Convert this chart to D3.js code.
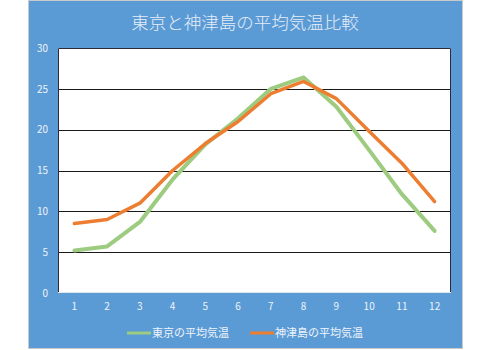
<!DOCTYPE html>
<html>
<head>
<meta charset="utf-8">
<script src="https://cdn.jsdelivr.net/npm/d3@7"></script>
<style>
  html, body { margin: 0; padding: 0; background: #ffffff; }
  svg { display: block; }
  text { font-family: "Noto Sans CJK JP", "Noto Sans", sans-serif; }
</style>
</head>
<body>
<svg id="chart" width="490" height="350"></svg>
<script>
// Monthly mean temperatures (°C)
const months = ["1","2","3","4","5","6","7","8","9","10","11","12"];
const tokyo = [5.2, 5.7, 8.7, 13.9, 18.2, 21.4, 25.0, 26.4, 22.8, 17.5, 12.1, 7.6];
const kozushima = [8.5, 9.0, 11.0, 15.0, 18.3, 21.0, 24.4, 25.9, 23.8, 19.8, 15.9, 11.2];
const seriesNames = ["東京の平均気温", "神津島の平均気温"];
const seriesColors = ["#9dcb80", "#ed7d31"];
const yTicks = [0, 5, 10, 15, 20, 25, 30];
const title = "東京と神津島の平均気温比較";

const svg = d3.select("#chart");

// chart background panel
svg.append("rect")
  .attr("x", 28.5).attr("y", 0.5)
  .attr("width", 434).attr("height", 348)
  .attr("fill", "#5b9bd5")
  .attr("stroke", "#c9c9c9").attr("stroke-width", 1);

const plot = { left: 58, top: 48, right: 451, bottom: 293 };

const x = d3.scaleBand().domain(months).range([plot.left, plot.right]);
const y = d3.scaleLinear().domain([0, 30]).range([plot.bottom, plot.top]);

// plot area
svg.append("rect")
  .attr("x", plot.left).attr("y", plot.top)
  .attr("width", plot.right - plot.left).attr("height", plot.bottom - plot.top)
  .attr("fill", "#ffffff");

// horizontal gridlines
svg.append("g")
  .selectAll("line")
  .data(yTicks.filter(d => d > 0 && d < 30))
  .join("line")
  .attr("x1", plot.left).attr("x2", plot.right)
  .attr("y1", d => Math.round(y(d)) + 0.5).attr("y2", d => Math.round(y(d)) + 0.5)
  .attr("stroke", "#1a1a1a").attr("stroke-width", 1);

// plot frame: dark on top, left and right
svg.append("path")
  .attr("d", `M${plot.left + 0.5},${plot.bottom}V${plot.top + 0.5}H${plot.right - 0.5}V${plot.bottom}`)
  .attr("fill", "none").attr("stroke", "#2b2b3a").attr("stroke-width", 1);
svg.append("line")
  .attr("x1", plot.left).attr("x2", plot.right)
  .attr("y1", plot.bottom - 0.5).attr("y2", plot.bottom - 0.5)
  .attr("stroke", "#dfe6ee").attr("stroke-width", 1);

// y axis labels
const yAxis = d3.axisLeft(y).tickValues(yTicks).tickSize(0).tickPadding(0);
svg.append("g")
  .attr("transform", `translate(${plot.left - 10},0)`)
  .call(yAxis)
  .call(g => g.select(".domain").remove())
  .selectAll("text")
  .attr("fill", "#eef3fa")
  .attr("font-size", 10)
  .attr("font-family", "'DejaVu Sans', sans-serif");

// x axis labels
const xAxis = d3.axisBottom(x).tickSize(0).tickPadding(0);
svg.append("g")
  .attr("transform", `translate(0,${plot.bottom + 10})`)
  .call(xAxis)
  .call(g => g.select(".domain").remove())
  .selectAll("text")
  .attr("fill", "#eef3fa")
  .attr("font-size", 10)
  .attr("font-family", "'DejaVu Sans', sans-serif");

// series lines
const line = d3.line()
  .x((d, i) => x(months[i]) + x.bandwidth() / 2)
  .y(d => y(d));

[tokyo, kozushima].forEach((vals, i) => {
  svg.append("path")
    .datum(vals)
    .attr("d", line)
    .attr("fill", "none")
    .attr("stroke", seriesColors[i])
    .attr("stroke-width", i === 0 ? 4 : 3.5)
    .attr("stroke-linejoin", "round")
    .attr("stroke-linecap", "round");
});

// title
svg.append("text")
  .attr("x", 245).attr("y", 29)
  .attr("text-anchor", "middle")
  .attr("font-size", 17.5)
  .attr("font-weight", 300)
  .attr("fill", "#e6edf7")
  .text(title);

// legend
const legendItems = [
  { x: 127, name: seriesNames[0], color: seriesColors[0] },
  { x: 250, name: seriesNames[1], color: seriesColors[1] }
];
const lg = svg.append("g").selectAll("g").data(legendItems).join("g")
  .attr("transform", d => `translate(${d.x},333)`);
lg.append("line")
  .attr("x1", 0).attr("x2", 24)
  .attr("stroke", d => d.color).attr("stroke-width", 3);
lg.append("text")
  .attr("x", 25).attr("dy", "0.35em")
  .attr("font-size", 11)
  .attr("fill", "#eef3fa")
  .text(d => d.name);
</script>
</body>
</html>
